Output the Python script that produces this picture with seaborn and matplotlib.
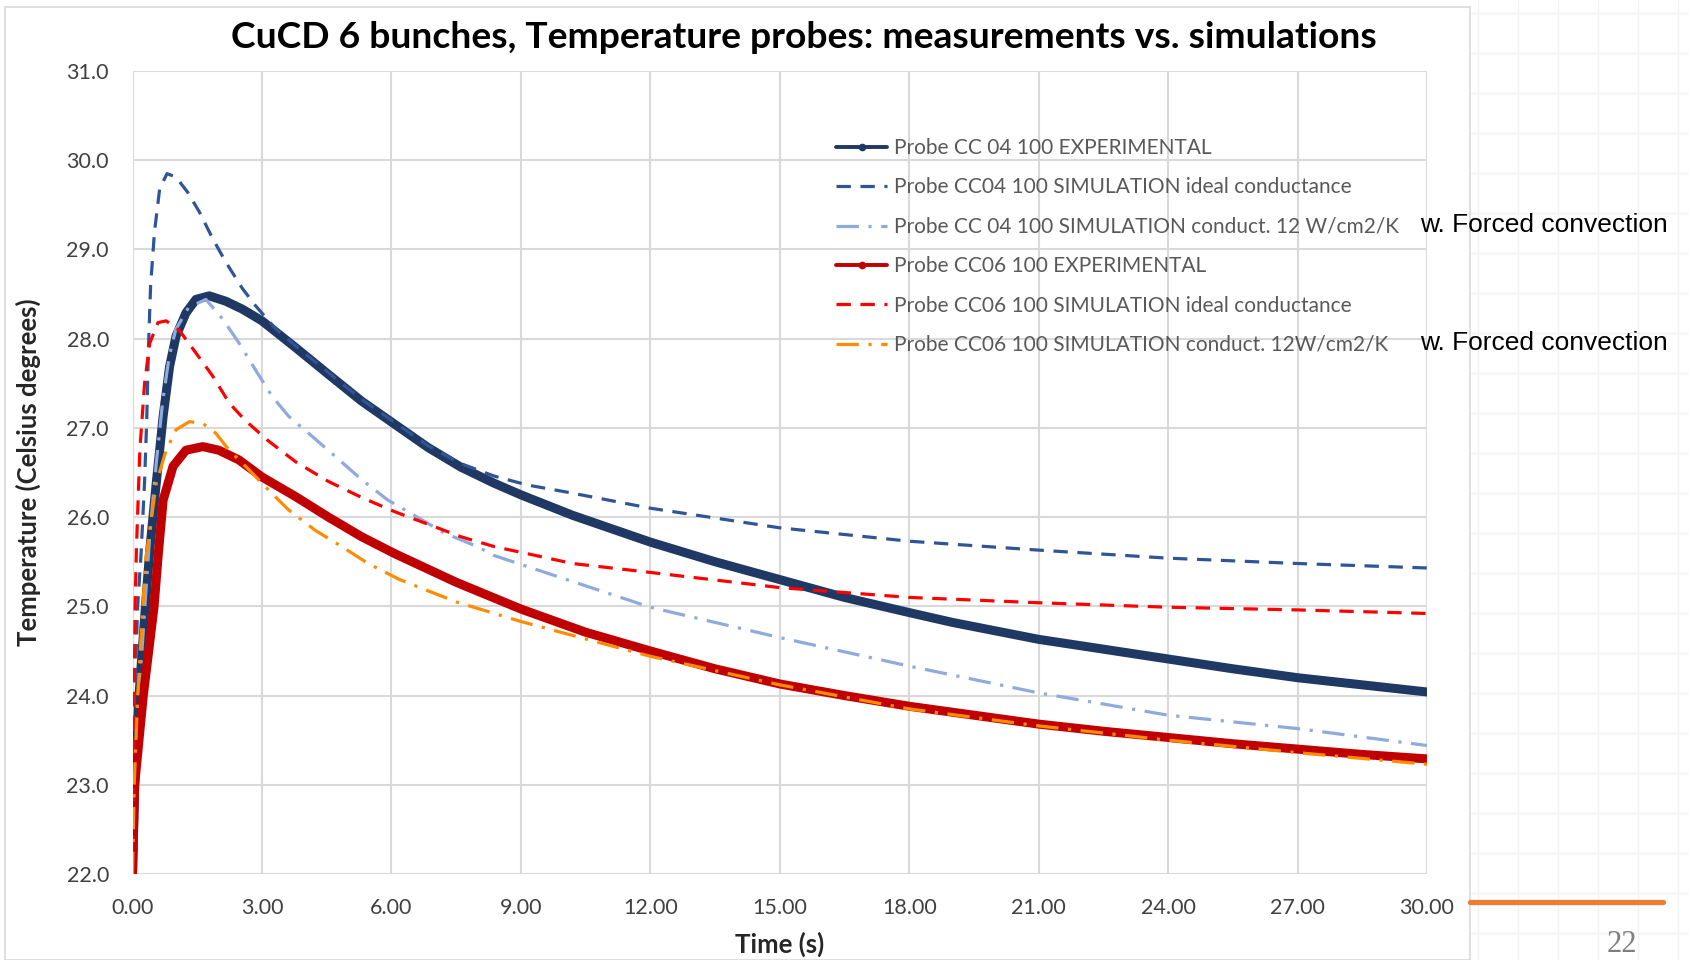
import numpy as np
import pandas as pd
import seaborn as sns
import matplotlib.pyplot as plt
from matplotlib.lines import Line2D
from matplotlib.patches import Rectangle

# values
t_cc04_exp = [0, 0.05, 0.15, 0.3, 0.4, 0.55, 0.71, 0.86, 1.01, 1.24, 1.47, 1.78, 2.16, 2.55, 3.0, 3.78,
              4.54, 5.31, 5.96, 6.85, 7.61, 8.38, 9.0, 10.2, 12, 13.5, 15, 16.5, 18, 19, 21, 22.5, 24,
              25.5, 27, 28.5, 30]
T_cc04_exp = [22.0, 23.0, 24.0, 25.0, 25.63, 26.38, 27.13, 27.69, 28.03, 28.29, 28.44, 28.48, 28.42, 28.33,
              28.2, 27.9, 27.6, 27.3, 27.08, 26.78, 26.56, 26.38, 26.25, 26.02, 25.72, 25.5, 25.3, 25.1,
              24.93, 24.82, 24.63, 24.52, 24.41, 24.3, 24.2, 24.12, 24.04]

t_cc04_ideal = [0, 0.05, 0.12, 0.2, 0.28, 0.33, 0.37, 0.42, 0.51, 0.63, 0.8, 1.01, 1.28, 1.55, 1.86, 2.16,
                2.55, 2.85, 3.3, 3.78, 4.54, 5.31, 5.96, 6.85, 7.61, 8.38, 9.15, 10.07, 12, 15, 18, 21,
                24, 27, 30]
T_cc04_ideal = [22.0, 24.0, 25.0, 25.6, 26.4, 27.1, 27.9, 28.6, 29.2, 29.68, 29.85, 29.81, 29.64, 29.42,
                29.12, 28.86, 28.56, 28.37, 28.12, 27.92, 27.62, 27.32, 27.1, 26.8, 26.6, 26.46, 26.36,
                26.28, 26.1, 25.88, 25.73, 25.63, 25.54, 25.48, 25.43]

t_cc04_12w = [0, 0.05, 0.15, 0.3, 0.4, 0.55, 0.7, 0.85, 1.0, 1.3, 1.7, 2.09, 2.47, 2.85, 3.24, 3.62, 4.08,
              4.7, 5.31, 5.92, 6.46, 7.23, 7.99, 8.38, 9, 12, 15, 18, 21, 24, 27, 30]
T_cc04_12w = [22.0, 23.0, 24.0, 25.1, 25.8, 26.6, 27.3, 27.8, 28.1, 28.35, 28.44, 28.22, 27.95, 27.65,
              27.35, 27.13, 26.94, 26.68, 26.42, 26.19, 26.04, 25.82, 25.67, 25.57, 25.47, 24.99, 24.65,
              24.33, 24.03, 23.78, 23.63, 23.44]

t_cc06_exp = [0, 0.05, 0.25, 0.5, 0.6, 0.71, 0.94, 1.24, 1.63, 2.0, 2.47, 3.0, 3.78, 4.54, 5.31, 6.08,
              7.5, 9, 10.5, 12, 13.5, 15, 16.5, 18, 19.5, 21, 22.5, 24, 25.5, 27, 28.5, 30]
T_cc06_exp = [22.0, 23.0, 24.0, 25.0, 25.6, 26.19, 26.57, 26.75, 26.79, 26.75, 26.64, 26.45, 26.23, 26.0,
              25.78, 25.59, 25.27, 24.97, 24.71, 24.5, 24.3, 24.13, 24.0, 23.88, 23.78, 23.68, 23.6,
              23.53, 23.46, 23.4, 23.34, 23.29]

t_cc06_ideal = [0, 0.03, 0.06, 0.09, 0.17, 0.28, 0.4, 0.59, 0.78, 1.09, 1.47, 1.86, 2.24, 2.62, 3.16,
                3.78, 4.54, 5.31, 6.08, 6.85, 7.61, 8.38, 9.15, 10.2, 12, 15, 18, 21, 24, 27, 30]
T_cc06_ideal = [22.0, 23.5, 25.0, 25.63, 26.75, 27.5, 27.95, 28.18, 28.2, 28.09, 27.84, 27.58, 27.28,
                27.08, 26.85, 26.62, 26.4, 26.22, 26.06, 25.92, 25.78, 25.67, 25.59, 25.48, 25.38,
                25.21, 25.1, 25.04, 24.99, 24.96, 24.92]

t_cc06_12w = [0, 0.04, 0.12, 0.3, 0.55, 0.78, 1.01, 1.32, 1.63, 1.93, 2.24, 2.7, 3.16, 3.62, 4.24, 4.85,
              5.46, 6.19, 7.5, 9, 12, 15, 18, 21, 24, 27, 30]
T_cc06_12w = [22.0, 23.0, 24.0, 25.5, 26.38, 26.75, 26.98, 27.07, 27.05, 26.94, 26.75, 26.53, 26.3,
              26.08, 25.85, 25.67, 25.48, 25.3, 25.05, 24.83, 24.44, 24.12, 23.85, 23.66, 23.5, 23.36,
              23.23]

labels = ["Probe CC 04 100 EXPERIMENTAL",
          "Probe CC04 100 SIMULATION ideal conductance",
          "Probe CC 04 100 SIMULATION conduct. 12 W/cm2/K",
          "Probe CC06 100 EXPERIMENTAL",
          "Probe CC06 100 SIMULATION ideal conductance",
          "Probe CC06 100 SIMULATION conduct. 12W/cm2/K"]

x_ticks = [0, 3, 6, 9, 12, 15, 18, 21, 24, 27, 30]
y_ticks = [22, 23, 24, 25, 26, 27, 28, 29, 30, 31]

sns.set_style("white")
plt.rcParams['font.family'] = ['Lato', 'DejaVu Sans']

fig = plt.figure(figsize=(16.89, 9.6), dpi=100)

# slide background grid on the right
for gx in np.arange(1478, 1689, 40):
    fig.add_artist(Line2D([gx / 1689, gx / 1689], [0, 1], color="#f3f3f3", lw=1, zorder=-3))
for gy in np.arange(13, 960, 40):
    fig.add_artist(Line2D([1470 / 1689, 1], [1 - gy / 960, 1 - gy / 960], color="#f3f3f3", lw=1, zorder=-3))

# chart box
fig.add_artist(Rectangle((5 / 1689, 0), (1470 - 5) / 1689, 1 - 7 / 960, transform=fig.transFigure,
                         facecolor="white", edgecolor="#d9d9d9", lw=1.2, zorder=-2))

ax = fig.add_axes([0.07845, 0.08958, 0.76643, 0.83646])
ax.set_facecolor("none")
ax.set_zorder(2)

series = [
    (t_cc04_exp, T_cc04_exp, dict(color="#1f3864", lw=6.5, solid_capstyle="round")),
    (t_cc04_ideal, T_cc04_ideal, dict(color="#2f5597", lw=2.3, linestyle=(0, (4.5, 3)))),
    (t_cc04_12w, T_cc04_12w, dict(color="#8faadc", lw=2.3, linestyle=(0, (7, 3, 1, 3)))),
    (t_cc06_exp, T_cc06_exp, dict(color="#c00000", lw=6.5, solid_capstyle="round")),
    (t_cc06_ideal, T_cc06_ideal, dict(color="#ff0000", lw=2.3, linestyle=(0, (4.5, 3)))),
    (t_cc06_12w, T_cc06_12w, dict(color="#ff8c00", lw=2.3, linestyle=(0, (7, 3, 1, 3)))),
]
for tx, ty, kw in series:
    sns.lineplot(x=tx, y=ty, ax=ax, **kw)

ax.set_xlim(0, 30)
ax.set_ylim(22, 31)
ax.set_xticks(x_ticks)
ax.set_yticks(y_ticks)
ax.set_xticklabels([f"{v:.2f}" for v in x_ticks])
ax.set_yticklabels([f"{v:.1f}" for v in y_ticks])
ax.grid(True, color="#d9d9d9", lw=1.5)
ax.set_axisbelow(True)
for s in ax.spines.values():
    s.set_visible(False)
ax.tick_params(axis="both", length=0, labelsize=15.5, labelcolor="#404040", pad=17)

ax.set_xlabel("Time (s)", fontsize=18.5, fontweight="bold", color="#262626", labelpad=10)
ax.set_ylabel("Temperature (Celsius degrees)", fontsize=18.5, fontweight="bold", color="#262626", labelpad=18)

handles = []
for tx, ty, kw in series:
    h = dict(kw)
    if h["lw"] > 5:
        h["lw"] = 2.8
        h["marker"] = "o"
        h["markersize"] = 4.5
    handles.append(Line2D([], [], **h))
leg = ax.legend(handles, labels, loc="upper left", bbox_to_anchor=(0.5437, 0.9165), frameon=False,
                borderpad=0, borderaxespad=0, fontsize=15, handlelength=2.45, handletextpad=0.3,
                labelspacing=0.93)
for txt in leg.get_texts():
    txt.set_color("#595959")

fig.text(0.4758, 0.961, "CuCD 6 bunches, Temperature probes: measurements vs. simulations",
         ha="center", va="center", fontsize=26.8, fontweight="bold", color="black")

fig.text(1420 / 1689, 1 - 225 / 960, "w. Forced convection", ha="left", va="center",
         fontsize=19, color="black", family=["Liberation Sans", "DejaVu Sans"])
fig.text(1420 / 1689, 1 - 343 / 960, "w. Forced convection", ha="left", va="center",
         fontsize=19, color="black", family=["Liberation Sans", "DejaVu Sans"])

fig.add_artist(Line2D([1470 / 1689, 1663 / 1689], [1 - 902 / 960, 1 - 902 / 960], color="#ed7d31", lw=3.8))
fig.text(1622 / 1689, 1 - 945 / 960, "22", ha="center", va="center", fontsize=22, color="#7f7f7f",
         family=["Liberation Serif", "DejaVu Serif"])

fig.savefig("out.png", dpi=100)
